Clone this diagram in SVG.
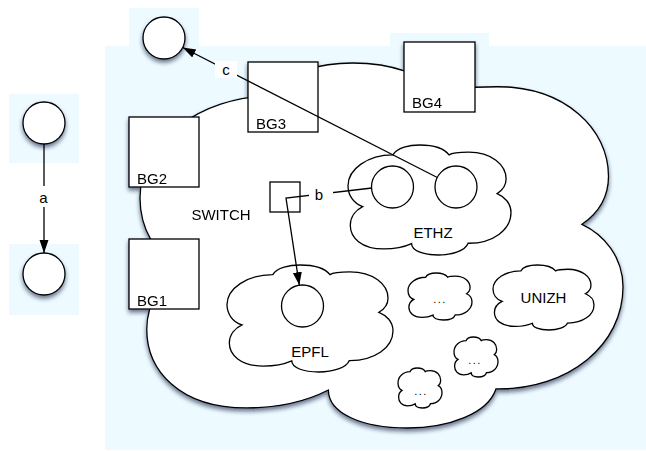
<svg xmlns="http://www.w3.org/2000/svg" width="646" height="451" viewBox="0 0 646 451">
<defs>
<style>
.bg{fill:#edfaff}
.shape{fill:#fff;stroke:#000;stroke-width:1.3}
.ln{fill:none;stroke:#000;stroke-width:1.3}
.t{font-family:"Liberation Sans",Arial,Helvetica,sans-serif;font-size:15px;fill:#000}
.m{text-anchor:middle}
.dots{font-size:11px;letter-spacing:1.5px}
.lbl{fill:#fff}
</style>
<filter id="sh" x="-10%" y="-10%" width="120%" height="130%">
<feDropShadow dx="0" dy="3" stdDeviation="2.2" flood-color="#0a1a40" flood-opacity="0.6"/>
</filter>
<path id="cloud" vector-effect="non-scaling-stroke" d="M9,56 C3,53 0,45 0,37 C0,22 12,9 27.6,9 C30,2 38,0 44,0 C52,0 59,3 62,9 C64,7 67,6.5 74,6.5 C88,6.5 97,18 97,31 C97,37 95,41 91.5,44.2 C96,47 100,53 100,61.4 C100,77 89,89.5 73.7,89.3 C72,96 64,100 55.3,100 C46,100 39,96 39,89.6 C34,93 28,94.5 22,94.5 C8,94.5 1.4,84 1.4,73 C1.4,65 5,59 9,56 Z"/>
<marker id="ah" markerUnits="userSpaceOnUse" markerWidth="14" markerHeight="10" refX="13" refY="4.5" orient="auto"><path d="M0,0 L13,4.5 L0,9 z" fill="#000"/></marker>
</defs>
<rect width="646" height="451" fill="#fff"/>
<g id="background">
<rect class="bg" x="105" y="46" width="541" height="404"/>
<rect class="bg" x="129" y="8" width="70" height="38"/>
<rect class="bg" x="390" y="33" width="99" height="13"/>
<rect class="bg" x="9" y="94" width="70" height="69"/>
<rect class="bg" x="9" y="244" width="70" height="71"/>
</g>
<g filter="url(#sh)">
<g id="switch">
<use href="#cloud" class="shape" transform="translate(140,63) scale(4.83,3.65)"/>
<text class="t m" x="221" y="220">SWITCH</text>
</g>
<g id="bg1"><rect class="shape" x="129" y="239" width="70" height="70"/><text class="t" x="137" y="306">BG1</text></g>
<g id="bg2"><rect class="shape" x="129" y="117" width="70" height="70"/><text class="t" x="137" y="184">BG2</text></g>
<g id="bg3"><rect class="shape" x="248" y="62" width="70" height="70"/><text class="t" x="256" y="129">BG3</text></g>
<g id="bg4"><rect class="shape" x="404" y="42" width="71" height="70"/><text class="t" x="412" y="108">BG4</text></g>
</g>
<g id="ethz">
<use href="#cloud" class="shape" transform="translate(348,145) scale(1.63,1.10)"/>
<text class="t m" x="433" y="238">ETHZ</text>
</g>
<g id="epfl">
<use href="#cloud" class="shape" transform="translate(227,265) scale(1.66,1.07)"/>
<text class="t m" x="310" y="357">EPFL</text>
</g>
<g id="unizh">
<use href="#cloud" class="shape" transform="translate(493,265) scale(1.01,0.65)"/>
<text class="t m" x="543.5" y="303">UNIZH</text>
</g>
<g id="other1">
<use href="#cloud" class="shape" transform="translate(408,273) scale(0.64,0.47)"/>
<text class="t m dots" x="440" y="303">...</text>
</g>
<g id="other2">
<use href="#cloud" class="shape" transform="translate(454,337) scale(0.44,0.40)"/>
<text class="t m dots" x="475" y="364">...</text>
</g>
<g id="other3">
<use href="#cloud" class="shape" transform="translate(398,368) scale(0.44,0.40)"/>
<text class="t m dots" x="421" y="395">...</text>
</g>
<g id="ethz-left"><circle class="shape" cx="392.5" cy="187" r="21"/></g>
<g id="ethz-right"><circle class="shape" cx="456" cy="187" r="21"/></g>
<g id="epfl-host"><circle class="shape" cx="302.5" cy="306" r="21"/></g>
<g id="router"><rect class="shape" x="270" y="182" width="30" height="30"/></g>
<g id="outside" filter="url(#sh)"><circle class="shape" cx="164" cy="38" r="21"/></g>
<g id="a-src" filter="url(#sh)"><circle class="shape" cx="44" cy="123" r="21"/></g>
<g id="a-dst" filter="url(#sh)"><circle class="shape" cx="44" cy="274" r="21"/></g>
<g id="connectors">
<line class="ln" x1="44" y1="144" x2="44" y2="253" marker-end="url(#ah)"/>
<rect class="lbl" x="36" y="186" width="15" height="21"/>
<text class="t m" x="43.5" y="203">a</text>
<line class="ln" x1="437.3" y1="177.5" x2="182.7" y2="47.5" marker-end="url(#ah)"/>
<rect class="lbl" x="215" y="61" width="22" height="17"/>
<text class="t m" x="226" y="75">c</text>
<polyline class="ln" points="372,188 286,198 299.3,285.2" marker-end="url(#ah)"/>
<rect class="lbl" x="309" y="186" width="24" height="16"/>
<text class="t m" x="319" y="200">b</text>
</g>
</svg>
